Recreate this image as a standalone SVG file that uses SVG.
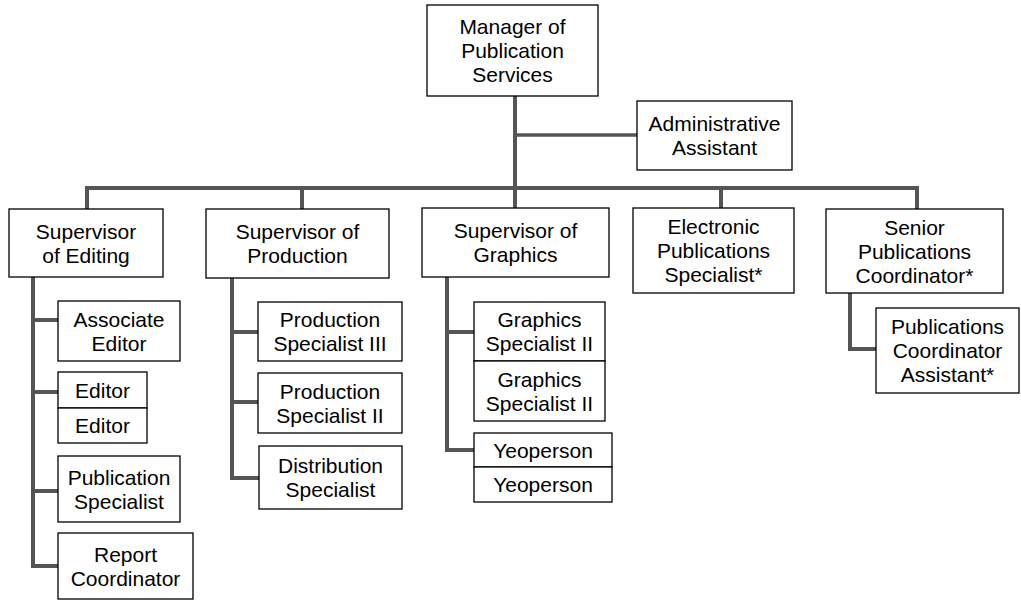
<svg xmlns="http://www.w3.org/2000/svg" width="1021" height="600" viewBox="0 0 1021 600">
<style>
.box{fill:#fff;stroke:#000;stroke-width:1.3}
.t{font-family:"Liberation Sans",Arial,sans-serif;font-size:21px;fill:#000;text-anchor:middle}
.c{fill:none;stroke:#555;stroke-width:4;stroke-linejoin:miter}
</style>
<rect width="1021" height="600" fill="#fff"/>
<g id="connectors">
<path class="c" d="M515 96V188"/>
<path class="c" d="M515 135H637" style="stroke-width:3.5"/>
<path class="c" d="M87 209V188H917V209"/>
<path class="c" d="M302 188V209"/>
<path class="c" d="M515 188V208"/>
<path class="c" d="M721 188V208"/>
<path class="c" d="M33 277V566H58M33 320H58M33 392H58M33 491H58"/>
<path class="c" d="M232 278V478H259M232 332H258M232 402H258"/>
<path class="c" d="M447 277V450H474M447 332H474"/>
<path class="c" d="M850 293V349H876"/>
</g>
<g id="manager"><rect class="box" x="427" y="5" width="171" height="91"/><text class="t" x="512.5" y="34">Manager of</text><text class="t" x="512.5" y="58">Publication</text><text class="t" x="512.5" y="82">Services</text></g>
<g id="admin"><rect class="box" x="637" y="101" width="155" height="69"/><text class="t" x="714.5" y="131">Administrative</text><text class="t" x="714.5" y="155">Assistant</text></g>
<g id="sup-editing"><rect class="box" x="9" y="209" width="154" height="68"/><text class="t" x="86" y="238.5">Supervisor</text><text class="t" x="86" y="262.5">of Editing</text></g>
<g id="sup-production"><rect class="box" x="206" y="209" width="183" height="69"/><text class="t" x="297.5" y="239">Supervisor of</text><text class="t" x="297.5" y="263">Production</text></g>
<g id="sup-graphics"><rect class="box" x="422" y="208" width="187" height="69"/><text class="t" x="515.5" y="238">Supervisor of</text><text class="t" x="515.5" y="262">Graphics</text></g>
<g id="electronic"><rect class="box" x="633" y="208" width="161" height="85"/><text class="t" x="713.5" y="234">Electronic</text><text class="t" x="713.5" y="258">Publications</text><text class="t" x="713.5" y="282">Specialist*</text></g>
<g id="senior"><rect class="box" x="826" y="209" width="177" height="84"/><text class="t" x="914.5" y="234.5">Senior</text><text class="t" x="914.5" y="258.5">Publications</text><text class="t" x="914.5" y="282.5">Coordinator*</text></g>
<g id="pub-coord-assistant"><rect class="box" x="876" y="308" width="143" height="85"/><text class="t" x="947.5" y="334">Publications</text><text class="t" x="947.5" y="358">Coordinator</text><text class="t" x="947.5" y="382">Assistant*</text></g>
<g id="associate-editor"><rect class="box" x="58" y="301" width="122" height="60"/><text class="t" x="119" y="326.5">Associate</text><text class="t" x="119" y="350.5">Editor</text></g>
<g id="editor-1"><rect class="box" x="58" y="372" width="89" height="36"/><text class="t" x="102.5" y="397.5">Editor</text></g>
<g id="editor-2"><rect class="box" x="58" y="408" width="89" height="35"/><text class="t" x="102.5" y="433">Editor</text></g>
<g id="publication-specialist"><rect class="box" x="58" y="456" width="122" height="66"/><text class="t" x="119" y="484.5">Publication</text><text class="t" x="119" y="508.5">Specialist</text></g>
<g id="report-coordinator"><rect class="box" x="58" y="533" width="135" height="66"/><text class="t" x="125.5" y="561.5">Report</text><text class="t" x="125.5" y="585.5">Coordinator</text></g>
<g id="prod-spec-3"><rect class="box" x="258" y="302" width="144" height="59"/><text class="t" x="330" y="327">Production</text><text class="t" x="330" y="351">Specialist III</text></g>
<g id="prod-spec-2"><rect class="box" x="258" y="373" width="144" height="60"/><text class="t" x="330" y="398.5">Production</text><text class="t" x="330" y="422.5">Specialist II</text></g>
<g id="distribution"><rect class="box" x="259" y="446" width="143" height="63"/><text class="t" x="330.5" y="473">Distribution</text><text class="t" x="330.5" y="497">Specialist</text></g>
<g id="graphics-spec-1"><rect class="box" x="474" y="302" width="131" height="59"/><text class="t" x="539.5" y="327">Graphics</text><text class="t" x="539.5" y="351">Specialist II</text></g>
<g id="graphics-spec-2"><rect class="box" x="474" y="361" width="131" height="60"/><text class="t" x="539.5" y="386.5">Graphics</text><text class="t" x="539.5" y="410.5">Specialist II</text></g>
<g id="yeoperson-1"><rect class="box" x="474" y="433" width="138" height="34"/><text class="t" x="543" y="457.5">Yeoperson</text></g>
<g id="yeoperson-2"><rect class="box" x="474" y="467" width="138" height="35"/><text class="t" x="543" y="492">Yeoperson</text></g>
</svg>
